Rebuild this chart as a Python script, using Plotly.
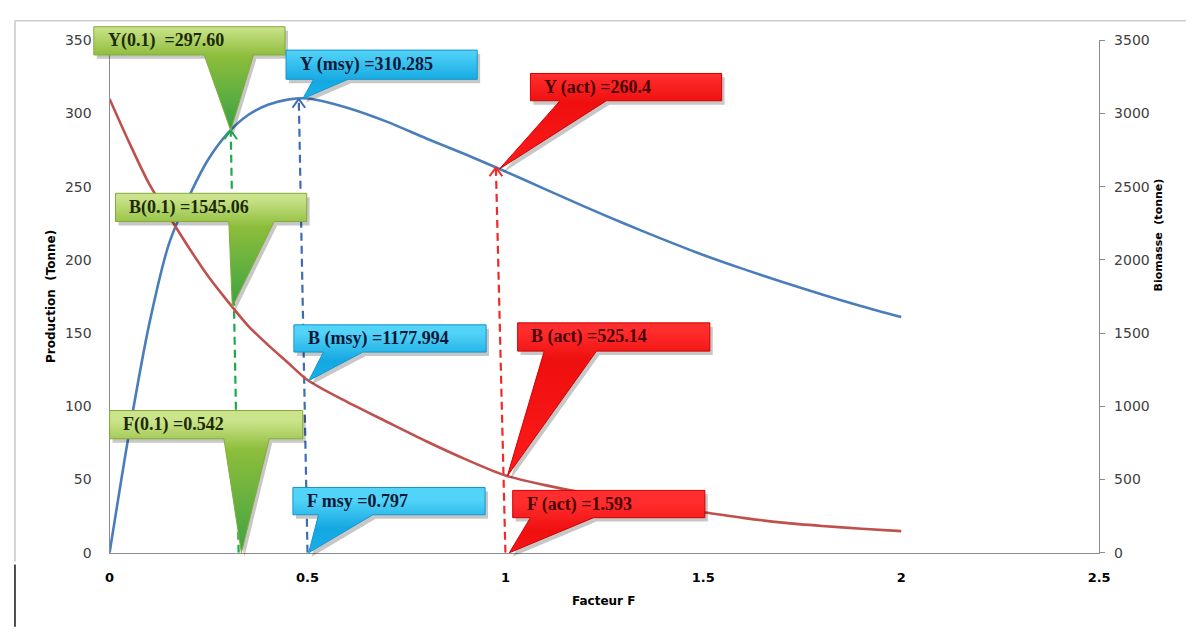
import numpy as np
import plotly.graph_objects as go

# page is 1198x635; the html body keeps its default 8px margin
PAGE_W, PAGE_H = 1198, 635
OFF = 8
FIG_W, FIG_H = PAGE_W - 2 * OFF, PAGE_H - 2 * OFF

# ---------------- data ----------------
F_VALUES = [0, 0.05, 0.1, 0.15, 0.2, 0.25, 0.3, 0.35, 0.4, 0.45, 0.5,
            0.6, 0.7, 0.8, 0.9, 1.0, 1.1, 1.2, 1.3, 1.4, 1.5, 1.6, 1.7, 1.8, 1.9, 2.0]
PRODUCTION = [0, 83, 156, 211, 243, 269, 287, 299, 306, 309.5, 310.3,
              304, 294.5, 283, 272, 260.4, 248.4, 236.4, 224.9, 213.9, 203.4, 193.9, 184.9, 176.4, 168.4, 161]
BIOMASSE = [3100, 2800, 2520, 2300, 2085, 1885, 1712, 1550, 1420, 1300, 1180,
            1030, 895, 762, 638, 528, 462, 408, 362, 318, 277, 238, 206, 183, 164, 148]

X_TICKS = [0, 0.5, 1, 1.5, 2, 2.5]
X_TICK_LABELS = ["0", "0.5", "1", "1.5", "2", "2.5"]
Y_LEFT_TICKS = [0, 50, 100, 150, 200, 250, 300, 350]
Y_RIGHT_TICKS = [0, 500, 1000, 1500, 2000, 2500, 3000, 3500]

# reference-point lines (bottom F, top F as drawn on the chart)
REF_LINES = [
    ("f01", 0.326, 0.306),
    ("msy", 0.500, 0.478),
    ("act", 1.000, 0.976),
]

# callouts: text, group, kind, F of the pointed value
CALLOUT_TEXT = ["Y(0.1)\u00a0\u00a0=297.60", "Y (msy) =310.285", "Y (act) =260.4",
                "B(0.1) =1545.06", "B (msy) =1177.994", "B (act) =525.14",
                "F(0.1) =0.542", "F msy =0.797", "F (act) =1.593"]
CALLOUT_GROUP = ["f01", "msy", "act", "f01", "msy", "act", "f01", "msy", "act"]
CALLOUT_KIND = ["Y", "Y", "Y", "B", "B", "B", "F", "F", "F"]
CALLOUT_F = [0.306, 0.488, 0.985, 0.31, 0.503, 1.005, 0.333, 0.503, 1.01]

# ---------------- layout / styling (page pixels) ----------------
PL, PR, PT, PB = 106, 1110, 33, 559
X_MAX, Y_MAX, Y2_MAX = 2.5, 350, 3500

CALLOUT_BOX = [(90, 19, 284, 48), (285, 43, 479, 73), (533, 67, 727, 95),
               (112, 190, 306, 219), (293, 325, 488, 353), (520, 323, 715, 352),
               (106, 413, 302, 442), (292, 492, 487, 520), (515, 495, 710, 523)]
CALLOUT_BASE = [(202, 252), (313, 348), (563, 610),
                (227, 273), (323, 363), (547, 600),
                (222, 268), (318, 373), (533, 597)]

THEME = {
    "f01": dict(c0="#cbe38a", c1="#8dbd3b", c2="#33a044", line="#84ab3a",
                text="#1c2a06", dash="#1fa84a"),
    "msy": dict(c0="#52d3f8", c1="#14a8e2", c2="#1bb2eb", line="#1496cc",
                text="#0c1838", dash="#3d6cb3"),
    "act": dict(c0="#ff2d2d", c1="#ef0f0f", c2="#ff1c1c", line="#d00000",
                text="#4a0505", dash="#ee2a2a"),
}

BLUE = "#4a7ebb"
RED = "#c0504d"


def px_x(f):
    return PL + f / X_MAX * (PR - PL)


def px_y(v):
    return PB - v / Y_MAX * (PB - PT)


def fx(px):  # page px -> figure paper fraction
    return (px - OFF) / FIG_W


def fy(py):
    return 1 - (py - OFF) / FIG_H


def value_at(kind, f):
    if kind == "Y":
        return float(np.interp(f, F_VALUES, PRODUCTION))
    if kind == "B":
        return float(np.interp(f, F_VALUES, BIOMASSE)) * Y_MAX / Y2_MAX
    return 0.0


fig = go.Figure()

# main curves
fig.add_trace(go.Scatter(x=F_VALUES, y=PRODUCTION, mode="lines",
                         line=dict(color=BLUE, width=2.6, shape="spline", smoothing=0.8),
                         hoverinfo="skip", xaxis="x", yaxis="y"))
fig.add_trace(go.Scatter(x=F_VALUES, y=BIOMASSE, mode="lines",
                         line=dict(color=RED, width=2.6, shape="spline", smoothing=0.8),
                         hoverinfo="skip", xaxis="x", yaxis="y2"))

# dashed reference lines with open arrow heads
for grp, fb, ft in REF_LINES:
    col = THEME[grp]["dash"]
    vt = value_at("Y", ft)
    fig.add_trace(go.Scatter(x=[fb, ft], y=[0, vt], mode="lines",
                             line=dict(color=col, width=2.2, dash="8px,5px"),
                             hoverinfo="skip", xaxis="x", yaxis="y"))
    fig.add_trace(go.Scatter(x=[ft - 0.016, ft, ft + 0.016], y=[vt - 6, vt, vt - 6],
                             mode="lines", line=dict(color=col, width=2),
                             hoverinfo="skip", xaxis="x", yaxis="y"))

# callouts (overlay axes in page pixels)
annotations = []
for i, txt in enumerate(CALLOUT_TEXT):
    th = THEME[CALLOUT_GROUP[i]]
    x0, y0, x1, y1 = CALLOUT_BOX[i]
    b0, b1 = CALLOUT_BASE[i]
    f = CALLOUT_F[i]
    tx, ty = px_x(f), px_y(value_at(CALLOUT_KIND[i], f))
    xs = [x0, x1, x1, b1, tx, b0, x0, x0]
    ys = [y0, y0, y1, y1, ty, y1, y1, y0]
    fig.add_trace(go.Scatter(x=[v + 3 for v in xs], y=[v + 4 for v in ys], mode="lines",
                             fill="toself", fillcolor="rgba(0,0,0,0.22)",
                             line=dict(width=0, color="rgba(0,0,0,0)"),
                             hoverinfo="skip", xaxis="x3", yaxis="y3"))
    fb = (y1 - y0) / (ty - y0)
    fig.add_trace(go.Scatter(x=xs, y=ys, mode="lines", fill="toself",
                             fillgradient=dict(type="vertical",
                                               colorscale=[[0, th["c0"]], [fb, th["c1"]], [1, th["c2"]]],
                                               start=y0, stop=ty),
                             line=dict(width=1, color=th["line"]),
                             hoverinfo="skip", xaxis="x3", yaxis="y3"))
    annotations.append(dict(x=x0 + 12, y=(y0 + y1) / 2, xref="x3", yref="y3",
                            text="<b>" + txt + "</b>", showarrow=False,
                            xanchor="left", yanchor="middle",
                            font=dict(family="Liberation Serif", size=18, color=th["text"])))

# axis titles
annotations.append(dict(x=607, y=609, xref="x3", yref="y3", text="<b>Facteur F</b>",
                        showarrow=False, font=dict(family="DejaVu Sans", size=12, color="black")))
annotations.append(dict(x=46, y=296, xref="x3", yref="y3", text="<b>Production  (Tonne)</b>",
                        showarrow=False, textangle=-90,
                        font=dict(family="DejaVu Sans", size=12, color="black")))
annotations.append(dict(x=1170, y=233, xref="x3", yref="y3", text="<b>Biomasse  (tonne)</b>",
                        showarrow=False, textangle=-90,
                        font=dict(family="DejaVu Sans", size=11, color="black")))

shapes = [
    dict(type="line", xref="paper", yref="paper", x0=fx(10), x1=fx(PAGE_W), y0=fy(13), y1=fy(13),
         line=dict(color="#cccccc", width=1.5)),
    dict(type="line", xref="paper", yref="paper", x0=fx(10), x1=fx(10), y0=fy(13), y1=fy(568),
         line=dict(color="#c8c8c8", width=1.5)),
    dict(type="line", xref="paper", yref="paper", x0=fx(10), x1=fx(10), y0=fy(571), y1=fy(PAGE_H),
         line=dict(color="#222222", width=1.6)),
]

AX_LINE = "#8c8c8c"
fig.update_layout(
    width=FIG_W, height=FIG_H, margin=dict(l=0, r=0, t=0, b=0),
    paper_bgcolor="white", plot_bgcolor="rgba(0,0,0,0)", showlegend=False,
    xaxis=dict(domain=[fx(PL), fx(PR)], range=[0, X_MAX], tickvals=X_TICKS, ticktext=X_TICK_LABELS,
               showline=True, linecolor=AX_LINE, linewidth=1.3, showgrid=False, zeroline=False,
               ticks="", ticklabelstandoff=12, fixedrange=True,
               tickfont=dict(family="DejaVu Sans", size=13, color="black", weight="bold")),
    yaxis=dict(domain=[fy(PB), fy(PT)], range=[0, Y_MAX], tickvals=Y_LEFT_TICKS,
               showline=True, linecolor=AX_LINE, linewidth=1.3, showgrid=False, zeroline=False,
               ticks="", ticklabelstandoff=14, fixedrange=True,
               tickfont=dict(family="DejaVu Sans", size=14, color="#404040")),
    yaxis2=dict(overlaying="y", side="right", anchor="x", range=[0, Y2_MAX], tickvals=Y_RIGHT_TICKS,
                showline=True, linecolor=AX_LINE, linewidth=1.3, showgrid=False, zeroline=False,
                ticks="outside", ticklen=5, tickcolor=AX_LINE, ticklabelstandoff=6, fixedrange=True,
                tickfont=dict(family="DejaVu Sans", size=14, color="#404040")),
    xaxis3=dict(domain=[0, 1], range=[OFF, OFF + FIG_W], visible=False, anchor="y3", fixedrange=True),
    yaxis3=dict(domain=[0, 1], range=[OFF + FIG_H, OFF], visible=False, anchor="x3", fixedrange=True),
    annotations=annotations,
    shapes=shapes,
)

fig.write_html("out.html")
